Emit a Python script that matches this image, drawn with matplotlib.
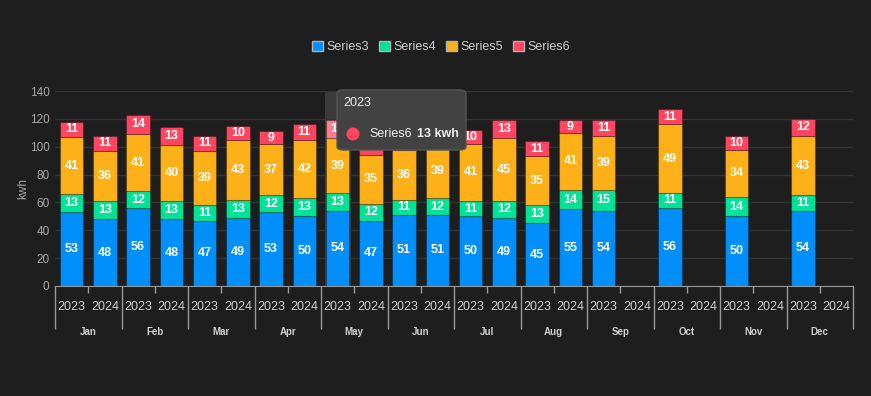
import numpy as np
import matplotlib.pyplot as plt
from matplotlib.patches import Patch, FancyBboxPatch, Ellipse, Rectangle

plt.rcParams['font.family'] = ['Liberation Sans', 'DejaVu Sans']

months = ['Jan', 'Feb', 'Mar', 'Apr', 'May', 'Jun', 'Jul', 'Aug', 'Sep', 'Oct', 'Nov', 'Dec']
years = ['2023', '2024']
series_names = ['Series3', 'Series4', 'Series5', 'Series6']
colors = ['#008FFB', '#00E396', '#FEB019', '#FF4560']

# values per month, 2023 / 2024 (None = no bar)
s3_2023 = [53, 56, 47, 53, 54, 51, 50, 45, 54, 56, 50, 54]
s3_2024 = [48, 48, 49, 50, 47, 51, 49, 55, None, None, None, None]
s4_2023 = [13, 12, 11, 12, 13, 11, 11, 13, 15, 11, 14, 11]
s4_2024 = [13, 13, 13, 13, 12, 12, 12, 14, None, None, None, None]
s5_2023 = [41, 41, 39, 37, 39, 36, 41, 35, 39, 49, 34, 43]
s5_2024 = [36, 40, 43, 42, 35, 39, 45, 41, None, None, None, None]
s6_2023 = [11, 14, 11, 9, 13, 11, 10, 11, 11, 11, 10, 12]
s6_2024 = [11, 13, 10, 11, 11, 10, 13, 9, None, None, None, None]

bg = '#1e1e1e'
fig = plt.figure(figsize=(8.71, 3.96), dpi=100, facecolor=bg)
W, H = 871, 396
ax = fig.add_axes([55 / W, (H - 286) / H, (853 - 55) / W, (286 - 91) / H])
ax.set_facecolor(bg)

bw = 0.35
hover_month = 4  # May 2023 hovered
ax.add_patch(Rectangle((hover_month + 0.25 - bw / 2 - 0.02, 0), bw + 0.04, 140,
                       color='#3a3a3a', zorder=0.5, lw=0))

data = {'2023': [s3_2023, s4_2023, s5_2023, s6_2023],
        '2024': [s3_2024, s4_2024, s5_2024, s6_2024]}
for yi, yr in enumerate(years):
    for m in range(12):
        if data[yr][0][m] is None:
            continue
        x = m + 0.25 + 0.5 * yi
        bottom = 0
        for si in range(4):
            v = data[yr][si][m]
            c = colors[si]
            if yr == '2023' and m == hover_month and si == 3:
                c = '#ff7d91'
            ax.bar(x, v, bw, bottom=bottom, color=c, edgecolor=(0, 0, 0, 0.25),
                   linewidth=0.8, zorder=2)
            ax.text(x, bottom + v / 2, str(v), ha='center', va='center', color='white',
                    fontsize=9, fontweight='bold', zorder=3)
            bottom += v

ax.set_xlim(0, 12)
ax.set_ylim(0, 140)
ax.set_yticks(range(0, 141, 20))
ax.grid(axis='y', color='#333333', lw=1, zorder=0)
ax.tick_params(axis='y', length=0, colors='#a8a8a8', labelsize=8.5, pad=4)
ax.set_ylabel('kwh', color='#a8a8a8', fontsize=8.5)
ax.yaxis.set_label_coords(-(55 - 29) / 798, 0.5)
for sp in ['top', 'right', 'left']:
    ax.spines[sp].set_visible(False)
ax.spines['bottom'].set_color('#999999')

ax.set_xticks(range(13))
ax.set_xticklabels([])
ax.set_xticks(np.arange(12) + 0.5, minor=True)
ax.tick_params(axis='x', which='major', length=31, color='#999999', width=1)
ax.tick_params(axis='x', which='minor', length=5, color='#999999', width=1)

ph = 195.0
for m in range(12):
    for yi, yr in enumerate(years):
        ax.text(m + 0.25 + 0.5 * yi, -(307 - 286) / ph, yr, transform=ax.get_xaxis_transform(),
                ha='center', va='center', color='#d0d0d0', fontsize=9)
    ax.text(m + 0.5, -(332 - 286) / ph, months[m], transform=ax.get_xaxis_transform(),
            ha='center', va='center', color='#d0d0d0', fontsize=7, fontweight='bold')

handles = [Patch(facecolor=c, edgecolor='#b0b0b0', lw=1) for c in colors]
fig.legend(handles, series_names, loc='center', bbox_to_anchor=(441 / W, 1 - 47 / H), ncol=4,
           frameon=False, fontsize=9, labelcolor='#cfcfcf', handlelength=0.9, handleheight=0.9,
           handletextpad=0.25, columnspacing=0.8)

# tooltip
tx0, ty0, tx1, ty1 = 337, 90, 466, 150
fig.add_artist(FancyBboxPatch((tx0 / W, 1 - ty1 / H), (tx1 - tx0) / W, (ty1 - ty0) / H,
                              boxstyle='round,pad=0,rounding_size=0.008',
                              transform=fig.transFigure, facecolor='#424242',
                              edgecolor='#555555', lw=1, zorder=10))
fig.text(343 / W, 1 - 103 / H, '2023', color='#f0f0f0', fontsize=9, va='center', zorder=11)
fig.add_artist(Ellipse((353 / W, 1 - 134 / H), 13 / W, 13 / H, transform=fig.transFigure,
                       facecolor='#FF4560', edgecolor='none', zorder=11))
fig.text(369 / W, 1 - 134 / H, 'Series6', color='#f0f0f0', fontsize=9, va='center', zorder=11)
fig.text(417 / W, 1 - 134 / H, '13 kwh', color='#f0f0f0', fontsize=9, fontweight='bold',
         va='center', zorder=11)

fig.savefig('out.png', dpi=100, facecolor=bg)
